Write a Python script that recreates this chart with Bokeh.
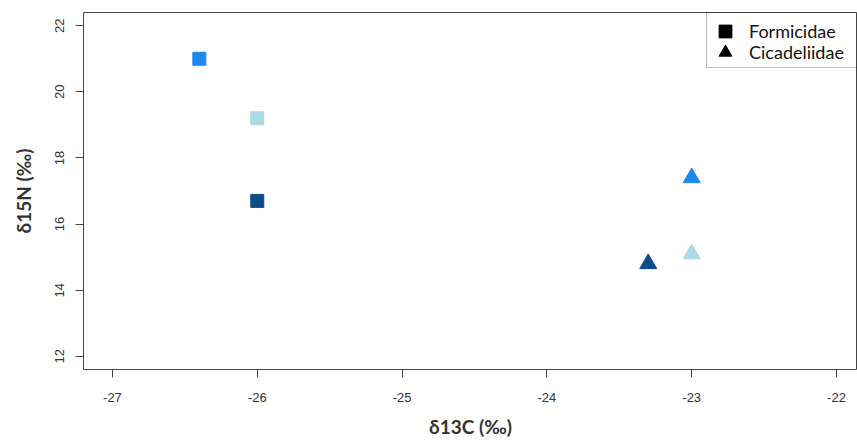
from bokeh.plotting import figure
from bokeh.models import (Range1d, FixedTicker, ColumnDataSource, Legend, LegendItem,
                          BoxAnnotation)
from bokeh.embed import file_html
from bokeh.resources import INLINE

# ---- data ----
form_c13 = [-26.4, -26.0, -26.0]
form_n15 = [21.0, 19.2, 16.7]
form_col = ["#1E88F0", "#ADD8E6", "#0F4C8A"]

cica_c13 = [-23.0, -23.0, -23.3]
cica_n15 = [17.4, 15.1, 14.8]
cica_col = ["#1E88F0", "#ADD8E6", "#0F4C8A"]

x_ticks = [-27, -26, -25, -24, -23, -22]
y_ticks = [12, 14, 16, 18, 20, 22]
legend_labels = ["Formicidae", "Cicadeliidae"]
x_label = "δ13C (‰)"
y_label = "δ15N (‰)"

p = figure(width=857, height=442, output_backend="svg", toolbar_location=None,
           x_range=Range1d(-27.2, -21.855), y_range=Range1d(11.6, 22.4),
           min_border_left=83, min_border_right=0, min_border_top=12, min_border_bottom=73)
p.xgrid.visible = False
p.ygrid.visible = False
p.outline_line_color = "#444444"
p.outline_line_width = 1
p.background_fill_color = "white"
p.border_fill_color = "white"

for ax in (p.xaxis[0], p.yaxis[0]):
    ax.axis_line_color = None
    ax.major_tick_line_color = "#444444"
    ax.major_tick_out = 8
    ax.major_tick_in = 0
    ax.minor_tick_line_color = None
    ax.major_label_text_font = "Liberation Sans"
    ax.major_label_text_font_size = "13px"
    ax.major_label_text_color = "#333333"
    ax.axis_label_text_font = "Lato"
    ax.axis_label_text_font_style = "bold"
    ax.axis_label_text_font_size = "19px"
    ax.axis_label_text_color = "#333333"

p.xaxis[0].ticker = FixedTicker(ticks=x_ticks)
p.yaxis[0].ticker = FixedTicker(ticks=y_ticks)
p.xaxis[0].major_label_overrides = {t: str(t) for t in x_ticks}
p.yaxis[0].major_label_overrides = {t: str(t) for t in y_ticks}
p.xaxis[0].axis_label = x_label
p.yaxis[0].axis_label = y_label
p.xaxis[0].major_label_standoff = 15
p.xaxis[0].axis_label_standoff = 10
p.yaxis[0].major_label_orientation = "vertical"
p.yaxis[0].major_label_standoff = 11
p.yaxis[0].axis_label_standoff = 18

src_f = ColumnDataSource(dict(x=form_c13, y=form_n15, c=form_col))
src_c = ColumnDataSource(dict(x=cica_c13, y=cica_n15, c=cica_col))
p.scatter("x", "y", source=src_f, marker="square", size=13, fill_color="c", line_color="c")
p.scatter("x", "y", source=src_c, marker="triangle", size=17, fill_color="c", line_color="c")

# legend (black symbols); NaN points so nothing is drawn in the plot area
nan = float("nan")
leg_f = p.scatter(x=[nan], y=[nan], marker="square", fill_color="black", line_color="black")
leg_c = p.scatter(x=[nan], y=[nan], marker="triangle", fill_color="black", line_color="black")

common = dict(orientation="vertical", glyph_width=32, glyph_height=32, spacing=0,
              padding=0, margin=0, label_standoff=8, label_text_font="Lato",
              label_text_font_size="18px", label_text_color="#111111",
              border_line_color=None, background_fill_alpha=0)
legend1 = Legend(items=[LegendItem(label=legend_labels[0], renderers=[leg_f])],
                 location=(626, 322), **common)
legend2 = Legend(items=[LegendItem(label=legend_labels[1], renderers=[leg_c])],
                 location=(626, 301), **common)
p.add_layout(legend1, "center")
p.add_layout(legend2, "center")

box = BoxAnnotation(left=623, left_units="screen", bottom=302, bottom_units="screen",
                    fill_alpha=0, line_color="#222222", line_width=1)
p.add_layout(box)

open("out.html", "w").write(file_html(p, INLINE))
